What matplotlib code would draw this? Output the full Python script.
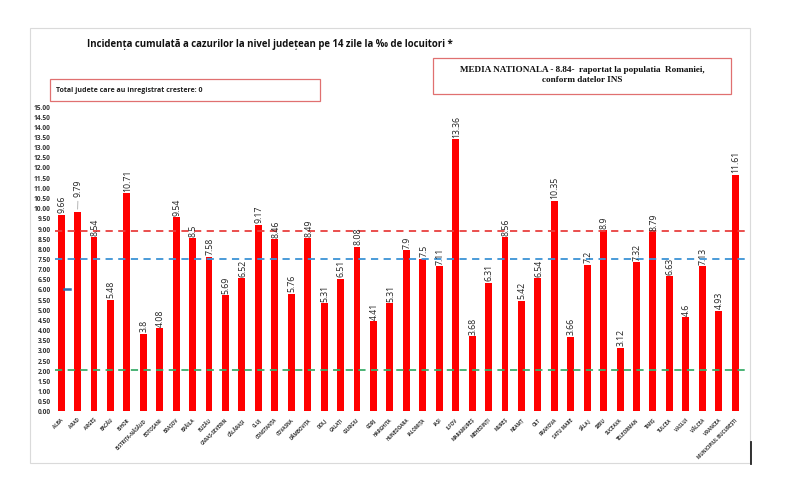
import numpy as np
import matplotlib.pyplot as plt
from matplotlib.patches import Rectangle
from matplotlib.lines import Line2D

judete = ["ALBA", "ARAD", "ARGEȘ", "BACĂU", "BIHOR", "BISTRIȚA-NĂSĂUD", "BOTOȘANI",
          "BRAȘOV", "BRĂILA", "BUZĂU", "CARAȘ-SEVERIN", "CĂLĂRAȘI", "CLUJ", "CONSTANȚA",
          "COVASNA", "DÂMBOVIȚA", "DOLJ", "GALAȚI", "GIURGIU", "GORJ", "HARGHITA",
          "HUNEDOARA", "IALOMIȚA", "IAȘI", "ILFOV", "MARAMUREȘ", "MEHEDINȚI", "MUREȘ",
          "NEAMȚ", "OLT", "PRAHOVA", "SATU MARE", "SĂLAJ", "SIBIU", "SUCEAVA",
          "TELEORMAN", "TIMIȘ", "TULCEA", "VASLUI", "VÂLCEA", "VRANCEA",
          "MUNICIPIUL BUCUREȘTI"]
incidenta = [9.66, 9.79, 8.54, 5.48, 10.71, 3.8, 4.08, 9.54, 8.5, 7.58, 5.69, 6.52,
             9.17, 8.46, 5.76, 8.49, 5.31, 6.51, 8.08, 4.41, 5.31, 7.9, 7.5, 7.11,
             13.36, 3.68, 6.31, 8.56, 5.42, 6.54, 10.35, 3.66, 7.2, 8.9, 3.12, 7.32,
             8.79, 6.63, 4.6, 7.13, 4.93, 11.61]
etichete = ["9.66", "9.79", "8.54", "5.48", "10.71", "3.8", "4.08", "9.54", "8.5", "7.58",
            "5.69", "6.52", "9.17", "8.46", "5.76", "8.49", "5.31", "6.51", "8.08", "4.41",
            "5.31", "7.9", "7.5", "7.11", "13.36", "3.68", "6.31", "8.56", "5.42", "6.54",
            "10.35", "3.66", "7.2", "8.9", "3.12", "7.32", "8.79", "6.63", "4.6", "7.13",
            "4.93", "11.61"]
media_nationala = 8.84
prag_albastru = 7.5
prag_verde = 2.0

W, H = 800, 489
fig = plt.figure(figsize=(W / 100, H / 100), dpi=100)
fig.patch.set_facecolor('white')

# light grey frame around the chart + dark stub at bottom right
fig.add_artist(Rectangle((30 / W, 1 - 464 / H), 720 / W, 435 / H, transform=fig.transFigure,
                         fill=False, edgecolor='#DADADA', linewidth=0.8))
fig.add_artist(Line2D([751 / W, 751 / W], [1 - 443 / H, 1 - 465 / H],
                      transform=fig.transFigure, color='#222222', linewidth=1.3))

ax = fig.add_axes([55 / W, 1 - 412 / H, 690 / W, 305 / H])
x = np.arange(len(judete))
ax.bar(x, incidenta, width=0.42, color='#FF0000', zorder=2)

ax.axhline(media_nationala, color='#E8403F', linestyle=(0, (4, 3)), linewidth=1.3, zorder=3)
ax.axhline(prag_albastru, color='#3C93D6', linestyle=(0, (4, 3)), linewidth=1.3, zorder=3)
ax.axhline(prag_verde, color='#3DAE6B', linestyle=(0, (4, 3)), linewidth=1.3, zorder=3)
ax.plot([0.2, 0.55], [6.0, 6.0], color='#2E6DB0', linewidth=1.8, zorder=3)

for xi, v, t in zip(x, incidenta, etichete):
    if t == "9.79":
        ax.annotate(t, xy=(xi, v), xytext=(xi + 0.05, v + 0.8), rotation=90,
                    ha='center', va='bottom', fontsize=6.3, color='#222222',
                    family='Open Sans',
                    arrowprops=dict(arrowstyle='-', color='#AAAAAA', lw=0.6))
    else:
        ax.text(xi + 0.05, v + 0.12, t, rotation=90, ha='center', va='bottom',
                fontsize=6.3, color='#222222', family='Open Sans')

ax.set_xlim(-0.37, 41.6)
ax.set_ylim(0, 15)
ax.set_yticks(np.arange(0, 15.01, 0.5))
ax.set_yticklabels([f"{v:.2f}" for v in np.arange(0, 15.01, 0.5)],
                   fontsize=4.8, fontweight='bold', color='#333333', family='Open Sans')
ax.set_xticks(x)
ax.set_xticklabels(judete, rotation=45, ha='right', va='top', rotation_mode='anchor',
                   fontsize=3.3, fontweight='bold', color='#333333', family='Open Sans')
ax.tick_params(axis='both', length=0, pad=3)
ax.tick_params(axis='x', pad=4)
for s in ax.spines.values():
    s.set_visible(False)

fig.text(270 / W, 1 - 45 / H,
         "Incidența cumulată a cazurilor la nivel județean pe 14 zile la ‰ de locuitori *",
         ha='center', va='center', fontsize=6.9, fontweight='bold', color='#111111',
         family='Open Sans')

# boxes
fig.add_artist(Rectangle((50 / W, 1 - 102 / H), 270 / W, 22 / H, transform=fig.transFigure,
                         fill=False, edgecolor='#E07070', linewidth=0.9))
fig.text(56 / W, 1 - 91 / H, "Total judete care au inregistrat crestere: 0",
         ha='left', va='center', fontsize=5.0, fontweight='bold', color='#222222',
         family='Open Sans')

fig.add_artist(Rectangle((433 / W, 1 - 95 / H), 298 / W, 36 / H, transform=fig.transFigure,
                         fill=False, edgecolor='#E07070', linewidth=0.9))
fig.text(582 / W, 1 - 75 / H,
         "MEDIA NATIONALA - 8.84-  raportat la populatia  Romaniei,\nconform datelor INS",
         ha='center', va='center', fontsize=6.6, fontweight='bold', color='#111111',
         family='Liberation Serif', linespacing=1.25)

fig.savefig('out.png', dpi=100, facecolor='white')
